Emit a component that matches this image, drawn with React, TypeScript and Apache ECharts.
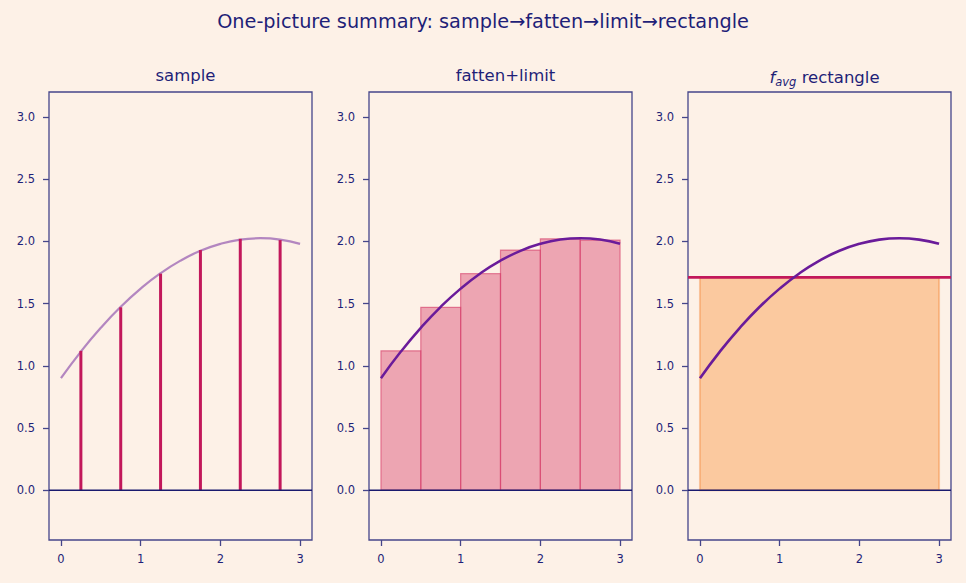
import React, { useEffect, useRef } from "react";
import * as echarts from "echarts";

const curveX = [0, 0.25, 0.5, 0.75, 1, 1.25, 1.5, 1.75, 2, 2.25, 2.5, 2.75, 3];
const curveY = [0.9, 1.114, 1.305, 1.474, 1.62, 1.744, 1.845, 1.924, 1.98, 2.014, 2.025, 2.014, 1.98];
const sampleX = [0.25, 0.75, 1.25, 1.75, 2.25, 2.75];
const sampleY = [1.12, 1.47, 1.74, 1.93, 2.02, 2.01];
const binLeft = [0, 0.5, 1, 1.5, 2, 2.5];
const binRight = [0.5, 1, 1.5, 2, 2.5, 3];
const binHeight = [1.12, 1.47, 1.74, 1.93, 2.02, 2.01];
const fAvg = 1.71;
const rectRange = [0, 3];
const xTicks = [0, 1, 2, 3];
const yTicks = [0, 0.5, 1, 1.5, 2, 2.5, 3];
const panelTitles = ["sample", "fatten+limit", "{i|f}{s|avg} rectangle"];
const mainTitle = "One-picture summary: sample\u2192fatten\u2192limit\u2192rectangle";

const NAVY = "#1f1f78";
const AXIS = "#45458a";
const BG = "#fdf1e7";
const FONT = "DejaVu Sans";

export default function App() {
  const ref = useRef<HTMLDivElement>(null);
  useEffect(() => {
    document.body.style.margin = "0";
    document.body.style.background = BG;
    const chart = echarts.init(ref.current!, null, { renderer: "svg" });
    const lefts = [49, 369, 688];
    const curve = curveX.map((x, i) => [x, curveY[i]]);
    const grids = lefts.map((l) => ({
      left: l, top: 92, width: 263, height: 448, show: true,
      borderColor: AXIS, borderWidth: 1.3, backgroundColor: "transparent",
    }));
    const xAxes = lefts.map((_, i) => ({
      type: "value", gridIndex: i, min: -0.15, max: 3.15, position: "bottom",
      splitLine: { show: false },
      axisLine: { show: false, onZero: false },
      axisTick: { show: true, customValues: xTicks, length: 6, lineStyle: { color: AXIS, width: 1.3 } },
      axisLabel: { customValues: xTicks, color: NAVY, fontFamily: FONT, fontSize: 11.5, margin: 13 },
    }));
    const yAxes = lefts.map((_, i) => ({
      type: "value", gridIndex: i, min: -0.4, max: 3.2, position: "left",
      splitLine: { show: false },
      axisLine: { show: false, onZero: false },
      axisTick: { show: true, customValues: yTicks, length: 6, lineStyle: { color: AXIS, width: 1.3 } },
      axisLabel: { customValues: yTicks, color: NAVY, fontFamily: FONT, fontSize: 11.5, margin: 14,
        formatter: (v: number) => v.toFixed(1) },
    }));
    const zeroLine = (i: number) => ({
      type: "line", xAxisIndex: i, yAxisIndex: i, data: [[-0.15, 0], [3.15, 0]],
      symbol: "none", lineStyle: { color: "#1a1a6e", width: 1.5 }, z: 5,
    });
    const rectSeries = (i: number, data: number[][], fill: string, stroke: string, lw: number) => ({
      type: "custom", xAxisIndex: i, yAxisIndex: i, data,
      renderItem: (params: any, api: any) => {
        const p0 = api.coord([api.value(0), api.value(2)]);
        const p1 = api.coord([api.value(1), 0]);
        return {
          type: "rect",
          shape: { x: p0[0], y: p0[1], width: p1[0] - p0[0], height: p1[1] - p0[1] },
          style: { fill, stroke, lineWidth: lw },
        };
      },
      z: 2,
    });
    const option: any = {
      animation: false,
      backgroundColor: BG,
      title: [
        { text: mainTitle, left: "center", top: 7, textStyle: { color: NAVY, fontFamily: FONT, fontSize: 19.3, fontWeight: "normal" } },
        ...panelTitles.map((t, i) => ({
          text: t, left: lefts[i] + 131.5, textAlign: "center", top: 62,
          textStyle: {
            color: NAVY, fontFamily: FONT, fontSize: 16.5, fontWeight: "normal",
            rich: {
              i: { fontStyle: "italic", fontSize: 16.5, color: NAVY, fontFamily: FONT },
              s: { fontStyle: "italic", fontSize: 11.5, color: NAVY, fontFamily: FONT, padding: [9, 0, 0, 0] },
            },
          },
        })),
      ],
      grid: grids,
      xAxis: xAxes,
      yAxis: yAxes,
      series: [
        // panel 1
        zeroLine(0),
        { type: "line", xAxisIndex: 0, yAxisIndex: 0, data: curve, smooth: true, symbol: "none",
          lineStyle: { color: "#6a1b9a", opacity: 0.5, width: 2.2 }, z: 3 },
        { type: "bar", xAxisIndex: 0, yAxisIndex: 0, data: sampleX.map((x, i) => [x, sampleY[i]]),
          barWidth: 3, itemStyle: { color: "#c2185b" }, z: 4 },
        // panel 2
        rectSeries(1, binLeft.map((l, i) => [l, binRight[i], binHeight[i]]), "rgba(214,60,105,0.42)", "rgba(214,60,105,0.6)", 1.2),
        zeroLine(1),
        { type: "line", xAxisIndex: 1, yAxisIndex: 1, data: curve, smooth: true, symbol: "none",
          lineStyle: { color: "#6a1b9a", width: 2.5 }, z: 6 },
        // panel 3
        rectSeries(2, [[rectRange[0], rectRange[1], fAvg]], "rgba(249,168,100,0.55)", "rgba(245,150,80,0.5)", 2),
        zeroLine(2),
        { type: "line", xAxisIndex: 2, yAxisIndex: 2, data: [[-0.15, fAvg], [3.15, fAvg]], symbol: "none",
          lineStyle: { color: "#c2185b", width: 2.6 }, z: 5 },
        { type: "line", xAxisIndex: 2, yAxisIndex: 2, data: curve, smooth: true, symbol: "none",
          lineStyle: { color: "#6a1b9a", width: 2.6 }, z: 6 },
      ],
    };
    chart.setOption(option);
    return () => chart.dispose();
  }, []);
  return <div ref={ref} style={{ width: 966, height: 583 }} />;
}
